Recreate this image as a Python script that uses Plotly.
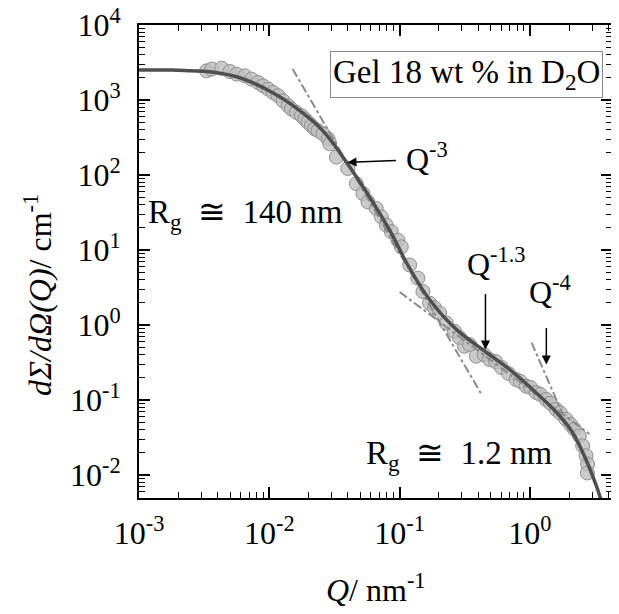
"""
SANS curve of the gel, log-log
"""

import math
import plotly.graph_objects as go

# measured points (Q in nm^-1, intensity in cm^-1)
q_data = [0.0033, 0.00361, 0.00431, 0.00498, 0.00561, 0.00649, 0.00731, 0.00820, 0.00895,
          0.00980, 0.01069, 0.01167, 0.01276, 0.01393, 0.01479, 0.01614, 0.01766, 0.01871,
          0.01982, 0.02104, 0.02234, 0.02366, 0.02582, 0.02825, 0.02911, 0.03273, 0.0400,
          0.04656, 0.05236, 0.05715, 0.06622, 0.07244, 0.07907, 0.08630, 0.09705, 0.1030,
          0.1194, 0.1380, 0.1510, 0.1699, 0.1853, 0.2028, 0.2281, 0.2636, 0.2884, 0.3148,
          0.3436, 0.3873, 0.445, 0.4898, 0.5445, 0.605, 0.684, 0.783, 0.845, 0.936, 1.009,
          1.116, 1.202, 1.331, 1.436, 1.588, 1.714, 1.893, 2.043, 2.193, 2.394, 2.540,
          2.698, 2.773, 2.76]
i_data = [2450, 2582, 2661, 2399, 2213, 2102, 1901, 1713, 1549,
          1400, 1262, 1140, 979, 840, 759, 684, 618, 559,
          504, 456, 412, 391, 353, 303, 261, 173, 122,
          76.6, 56.5, 43.7, 35.7, 27.6, 21.4, 17.5, 13.5, 11.0,
          6.30, 4.20, 2.79, 1.95, 1.69, 1.44, 1.06, 0.820, 0.676, 0.518,
          0.546, 0.382, 0.40, 0.345, 0.324, 0.270, 0.225, 0.187, 0.176, 0.152, 0.1466,
          0.125, 0.1183, 0.1016, 0.0899, 0.0748, 0.0662, 0.0551, 0.0473, 0.0406, 0.0330, 0.0243,
          0.0179, 0.0139, 0.01057]

# fitted curve
q_fit = [0.001, 0.0018, 0.00246, 0.0035, 0.00594, 0.01064, 0.01714, 0.0257, 0.03926, 0.0838,
         0.1132, 0.170, 0.2735, 0.4325, 0.697, 1.044, 1.596, 2.117, 2.618, 3.236, 3.6]
i_fit = [2520, 2510, 2450, 2380, 1980, 1250, 721, 391, 147, 18.4,
         6.70, 2.16, 0.863, 0.469, 0.254, 0.138, 0.0682, 0.037, 0.0178, 0.0071, 0.0040]

# power-law guides
q_p3 = [0.0151, 0.425]
i_p3 = [2600, 0.118]
q_p13 = [0.1, 2.86]
i_p13 = [2.75, 0.035]
q_p4 = [1.03, 1.8]
i_p4 = [0.58, 0.062]

# arrow heads of the slope labels (Q, I)
arrow_q = [0.0398, 0.456, 1.337]
arrow_i = [147, 0.469, 0.296]

x_exps = [-3, -2, -1, 0]
y_exps = [-2, -1, 0, 1, 2, 3, 4]

FONT = "Liberation Serif, Times New Roman, serif"

fig = go.Figure()

fig.add_trace(go.Scatter(
    x=q_data, y=i_data, mode='markers',
    marker=dict(size=14, color='rgba(190,190,190,0.8)', line=dict(color='#8f8f8f', width=1)),
    showlegend=False
))

for qq, ii in [(q_p3, i_p3), (q_p13, i_p13), (q_p4, i_p4)]:
    fig.add_trace(go.Scatter(
        x=qq, y=ii, mode='lines',
        line=dict(color='#8a8a8a', width=2, dash='dashdot'),
        showlegend=False
    ))

fig.add_trace(go.Scatter(
    x=q_fit, y=i_fit, mode='lines', line_shape='spline',
    line=dict(color='#4f4f4f', width=3.5),
    showlegend=False
))

minor_x = [m * 10 ** e for e in range(-3, 1) for m in range(2, 10)]
minor_y = [m * 10 ** e for e in range(-3, 4) for m in range(2, 10)]

axis_style = dict(
    type='log', tickmode='array',
    ticks='inside', ticklen=11, tickwidth=1.5, tickcolor='black',
    showline=True, linecolor='black', linewidth=2, mirror='allticks',
    showgrid=False, zeroline=False, automargin=False, ticklabeloverflow='allow',
    tickfont=dict(family=FONT, size=32, color='black')
)
fig.update_xaxes(
    range=[-3, 0.63],
    tickvals=[10 ** e for e in x_exps],
    ticktext=[f"10<sup>{e}</sup>" for e in x_exps],
    ticklabelstandoff=6,
    minor=dict(tickmode='array', tickvals=minor_x, ticks='inside', ticklen=6,
               tickwidth=1.2, tickcolor='black', showgrid=False),
    **axis_style
)
fig.update_yaxes(
    range=[-2.31, 4.001],
    tickvals=[10 ** e for e in y_exps],
    ticktext=[f"10<sup>{e}</sup>" for e in y_exps],
    ticklabelstandoff=10,
    minor=dict(tickmode='array', tickvals=minor_y, ticks='inside', ticklen=6,
               tickwidth=1.2, tickcolor='black', showgrid=False),
    **axis_style
)

txt = dict(family=FONT, size=32, color='black')
big = dict(family=FONT, size=33, color='black')
annotations = [
    # axis titles
    dict(text="<i>dΣ/dΩ(Q)</i>/ cm<sup>-1</sup>", xref='paper', yref='paper',
         x=-0.215, y=0.43, textangle=-90, showarrow=False, font=txt,
         xanchor='center', yanchor='middle'),
    dict(text="<i>Q</i>/ nm<sup>-1</sup>", xref='paper', yref='paper',
         x=0.5, y=-0.19, showarrow=False, font=txt, xanchor='center', yanchor='middle'),
    # legend box
    dict(text="Gel 18 wt % in D<sub>2</sub>O", xref='paper', yref='paper',
         x=0.98, y=0.946, xanchor='right', yanchor='top', showarrow=False,
         font=dict(family=FONT, size=33, color='black'),
         bordercolor='#8a8a8a', borderwidth=1, borderpad=2, bgcolor='white'),
    dict(text="R<sub>g</sub>\u2002≅\u2002140 nm", xref='paper', yref='paper',
         x=0.015, y=0.6, xanchor='left', yanchor='middle', showarrow=False, font=big),
    dict(text="R<sub>g</sub>\u2002≅\u20021.2 nm", xref='paper', yref='paper',
         x=0.475, y=0.09, xanchor='left', yanchor='middle', showarrow=False, font=big),
    dict(text="Q<sup>-3</sup>", xref='paper', yref='paper',
         x=0.56, y=0.72, xanchor='left', yanchor='middle', showarrow=False, font=txt),
    dict(text="Q<sup>-1.3</sup>", xref='paper', yref='paper',
         x=0.69, y=0.50, xanchor='left', yanchor='middle', showarrow=False, font=txt),
    dict(text="Q<sup>-4</sup>", xref='paper', yref='paper',
         x=0.82, y=0.44, xanchor='left', yanchor='middle', showarrow=False, font=txt),
]
# arrows: head on the data point, tail offset in pixels
for hq, hi, ax, ay in zip(arrow_q, arrow_i, [50, 0, 0], [-2, -57, -38]):
    annotations.append(dict(
        x=math.log10(hq), y=math.log10(hi), xref='x', yref='y', text='', showarrow=True,
        ax=ax, ay=ay, arrowhead=2, arrowsize=1.2, arrowwidth=1.5, arrowcolor='black'
    ))
fig.update_layout(annotations=annotations)

# page body adds an 8px offset, so the figure is 8px smaller than the window
fig.update_layout(
    width=611, height=606,
    margin=dict(l=131, r=7, t=17, b=116),
    plot_bgcolor='white', paper_bgcolor='white',
    showlegend=False
)

fig.write_html("out.html")
